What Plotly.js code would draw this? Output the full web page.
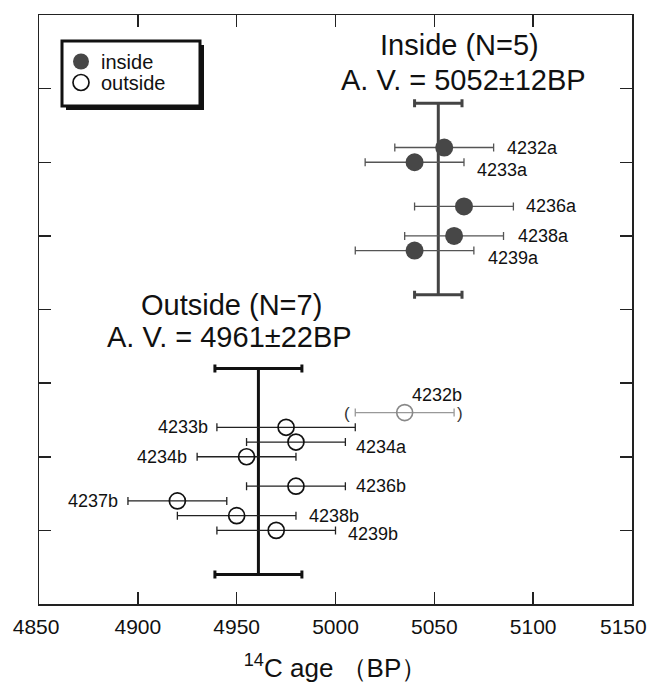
<!DOCTYPE html>
<html>
<head>
<meta charset="utf-8">
<script src="https://cdn.plot.ly/plotly-3.0.1.min.js"></script>
<style>html,body{margin:0;padding:0;background:#fff;}#chart{width:650px;height:690px;}</style>
</head>
<body>
<div id="chart"></div>
<script>
// ---------------- data ----------------
const xTickVals = [4850, 4900, 4950, 5000, 5050, 5100, 5150];
const xTickText = ['4850', '4900', '4950', '5000', '5050', '5100', '5150'];
const yTickVals = [1, 2, 3, 4, 5, 6, 7];

const insideLabels = ['4232a', '4233a', '4236a', '4238a', '4239a'];
const insideAge    = [5055, 5040, 5065, 5060, 5040];
const insideErr    = [25, 25, 25, 25, 30];
const insideRow    = [6.2, 6.0, 5.4, 5.0, 4.8];

const outsideLabels = ['4233b', '4234a', '4234b', '4236b', '4237b', '4238b', '4239b'];
const outsideAge    = [4975, 4980, 4955, 4980, 4920, 4950, 4970];
const outsideErr    = [35, 25, 25, 25, 25, 30, 30];
const outsideRow    = [2.4, 2.2, 2.0, 1.6, 1.4, 1.2, 1.0];

const excludedLabels = ['4232b'];
const excludedAge    = [5035];
const excludedErr    = [25];
const excludedRow    = [2.6];

const insideAvg = 5052, insideAvgErr = 12, insideAvgRows = [6.8, 4.2];
const outsideAvg = 4961, outsideAvgErr = 22, outsideAvgRows = [3.2, 0.4];

const insideTitle  = ['Inside (N=5)', 'A. V. = 5052±12BP'];
const outsideTitle = ['Outside (N=7)', 'A. V. = 4961±22BP'];

// ---------------- styling / placement ----------------
const M = {l: 39, r: 18, t: 15, b: 86};
const W = 650, H = 690;
const PW = W - M.l - M.r, PH = H - M.t - M.b;
const px2x = p => (p - M.l) / PW;
const py2y = p => (H - M.b - p) / PH;

const FONT = 'Liberation Sans, Arial, sans-serif';
const TICKFONT = {family: FONT, size: 21, color: '#111'};
const NB = '\u00A0';
const lastIdx = xTickText.length - 1;
// first label nudged inward; the last one is drawn as an annotation flush with the page edge
const tickTextShown = xTickText.map((t, i) => i === 0 ? t + NB : (i === lastIdx ? '' : t));

// label placement: side (r = right of bar, l = left of bar, t = above point), xshift, yshift (px)
const labelPlace = {
  '4232a': ['r', 11, 0], '4233a': ['r', 11, -8], '4236a': ['r', 11, 0],
  '4238a': ['r', 12, 0], '4239a': ['r', 12, -7],
  '4233b': ['l', -7, 0], '4234a': ['r', 9, -5], '4234b': ['l', -8, 0],
  '4236b': ['r', 9, 0], '4237b': ['l', -8, 0], '4238b': ['r', 11, 0],
  '4239b': ['r', 10, -4], '4232b': ['t', 32, 18]
};

function pointLabels(labels, ages, errs, rows) {
  return labels.map((lab, i) => {
    const p = labelPlace[lab];
    let x, xanchor;
    if (p[0] === 'r') { x = ages[i] + errs[i]; xanchor = 'left'; }
    else if (p[0] === 'l') { x = ages[i] - errs[i]; xanchor = 'right'; }
    else { x = ages[i]; xanchor = 'center'; }
    return {x: x, y: rows[i], xref: 'x', yref: 'y', text: lab, showarrow: false,
            xanchor: xanchor, yanchor: 'middle', xshift: p[1], yshift: p[2],
            font: {family: FONT, size: 18, color: '#111'}};
  });
}

const traces = [
  // average bars
  {x: [insideAvg, insideAvg], y: insideAvgRows, mode: 'lines', showlegend: false, hoverinfo: 'skip',
   line: {color: '#444', width: 3},
   error_x: {type: 'data', array: [insideAvgErr, insideAvgErr], color: '#444', thickness: 3, width: 4}},
  {x: [outsideAvg, outsideAvg], y: outsideAvgRows, mode: 'lines', showlegend: false, hoverinfo: 'skip',
   line: {color: '#111', width: 3},
   error_x: {type: 'data', array: [outsideAvgErr, outsideAvgErr], color: '#111', thickness: 3, width: 4}},
  // excluded point
  {x: excludedAge, y: excludedRow, mode: 'markers', showlegend: false, text: excludedLabels,
   marker: {symbol: 'circle-open', size: 16, color: '#888', line: {width: 1.6, color: '#888'}},
   error_x: {type: 'data', array: excludedErr, color: '#999', thickness: 1.3, width: 4}},
  // inside
  {x: insideAge, y: insideRow, mode: 'markers', name: 'inside', text: insideLabels, legend: 'legend',
   marker: {symbol: 'circle', size: 18, color: '#474747'},
   error_x: {type: 'data', array: insideErr, color: '#555', thickness: 1.3, width: 4}},
  // outside
  {x: outsideAge, y: outsideRow, mode: 'markers', name: 'outside', text: outsideLabels, legend: 'legend2',
   marker: {symbol: 'circle-open', size: 16, color: '#111', line: {width: 1.7, color: '#111'}},
   error_x: {type: 'data', array: outsideErr, color: '#222', thickness: 1.3, width: 4}}
];

const annotations = []
  .concat(pointLabels(insideLabels, insideAge, insideErr, insideRow))
  .concat(pointLabels(outsideLabels, outsideAge, outsideErr, outsideRow))
  .concat(pointLabels(excludedLabels, excludedAge, excludedErr, excludedRow))
  .concat([
    {x: excludedAge[0] - excludedErr[0], y: excludedRow[0], xref: 'x', yref: 'y', text: '(', showarrow: false,
     xanchor: 'right', yanchor: 'middle', xshift: -3, yshift: -1, font: {family: FONT, size: 17, color: '#333'}},
    {x: excludedAge[0] + excludedErr[0], y: excludedRow[0], xref: 'x', yref: 'y', text: ')', showarrow: false,
     xanchor: 'left', yanchor: 'middle', xshift: 1, yshift: -1, font: {family: FONT, size: 17, color: '#333'}},
    {x: px2x(459), y: py2y(45), xref: 'paper', yref: 'paper', text: insideTitle[0], showarrow: false,
     xanchor: 'center', yanchor: 'middle', font: {family: FONT, size: 29, color: '#111'}},
    {x: px2x(463), y: py2y(80), xref: 'paper', yref: 'paper', text: insideTitle[1], showarrow: false,
     xanchor: 'center', yanchor: 'middle', font: {family: FONT, size: 29, color: '#111'}},
    {x: px2x(231), y: py2y(305), xref: 'paper', yref: 'paper', text: outsideTitle[0], showarrow: false,
     xanchor: 'center', yanchor: 'middle', font: {family: FONT, size: 29, color: '#111'}},
    {x: px2x(229), y: py2y(337), xref: 'paper', yref: 'paper', text: outsideTitle[1], showarrow: false,
     xanchor: 'center', yanchor: 'middle', font: {family: FONT, size: 29, color: '#111'}},
    // last x tick label, kept inside the page
    {x: xTickVals[lastIdx], y: 0, xref: 'x', yref: 'paper', text: xTickText[lastIdx], showarrow: false,
     xanchor: 'right', yanchor: 'middle', xshift: 17, yshift: -22, font: TICKFONT}
  ]);

const shapes = [
  // legend box shadow and box
  {type: 'rect', xref: 'paper', yref: 'paper', x0: px2x(66), x1: px2x(204), y0: py2y(110), y1: py2y(45),
   fillcolor: '#111', line: {width: 0}, layer: 'above'},
  {type: 'rect', xref: 'paper', yref: 'paper', x0: px2x(62), x1: px2x(200), y0: py2y(106), y1: py2y(41),
   fillcolor: '#fff', line: {width: 3, color: '#111'}, layer: 'above'}
];

const legendCommon = {xanchor: 'left', yanchor: 'top', bgcolor: 'rgba(0,0,0,0)', borderwidth: 0,
                      font: {family: FONT, size: 20, color: '#111'}};

const layout = {
  width: W, height: H,
  margin: M,
  paper_bgcolor: '#fff', plot_bgcolor: '#fff',
  showlegend: true,
  legend: Object.assign({x: px2x(61), y: py2y(42)}, legendCommon),
  legend2: Object.assign({x: px2x(61), y: py2y(63)}, legendCommon),
  xaxis: {range: [4850, 5150], tickvals: xTickVals, ticktext: tickTextShown,
          ticks: 'inside', ticklen: 12, tickwidth: 1.5, tickcolor: '#222',
          showline: true, linecolor: '#222', linewidth: 1.5, mirror: 'ticks',
          showgrid: false, zeroline: false, ticklabelstandoff: 3,
          tickfont: TICKFONT,
          title: {text: '<sup>14</sup>C age （BP）', standoff: 22, font: {family: FONT, size: 26, color: '#111'}}},
  yaxis: {range: [0, 8], tickvals: yTickVals, showticklabels: false,
          ticks: 'inside', ticklen: 12, tickwidth: 1.5, tickcolor: '#222',
          showline: true, linecolor: '#222', linewidth: 1.5, mirror: 'ticks',
          showgrid: false, zeroline: false},
  annotations: annotations,
  shapes: shapes
};

Plotly.newPlot('chart', traces, layout, {displayModeBar: false, staticPlot: true});
</script>
</body>
</html>
